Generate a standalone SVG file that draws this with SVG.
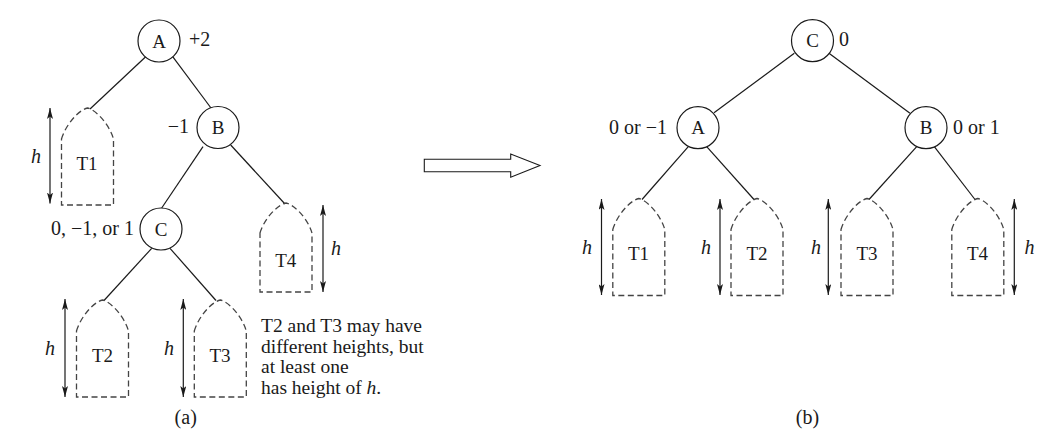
<svg xmlns="http://www.w3.org/2000/svg" xmlns:xlink="http://www.w3.org/1999/xlink" width="1057" height="442" viewBox="0 0 1057 442">
<style>
text{font-family:"Liberation Serif","Times New Roman",serif;fill:#1a1a1a}
.lbl{font-size:19px;text-anchor:middle}
.bal{font-size:20px}
.tl{font-size:19px;text-anchor:middle}
.h{font-size:20px;font-style:italic}
.note{font-size:19.5px}
.cap{font-size:20px;text-anchor:middle}
.node{fill:#fff;stroke:#1a1a1a;stroke-width:1.2}
.edge{stroke:#1a1a1a;stroke-width:1.2;fill:none}
.sub{fill:none;stroke:#444;stroke-width:1.3;stroke-dasharray:6 3.5}
.dim{stroke:#1a1a1a;stroke-width:1.2;fill:none;marker-start:url(#ah);marker-end:url(#ah)}
</style>
<defs>
<marker id="ah" viewBox="0 0 11 6" refX="11" refY="3" markerWidth="11" markerHeight="6" markerUnits="userSpaceOnUse" orient="auto-start-reverse">
<path d="M0,0 L11,3 L0,6 L2.5,3 Z" fill="#1a1a1a"/>
</marker>
<path id="tree" d="M-26,31 C-22,17 -9,2 0,0 C9,2 22,17 26,31 L26,97 L-26,97 Z"/>
<path id="treeS" d="M-26,30 C-22,16 -9,2 0,0 C9,2 22,16 26,30 L26,89 L-26,89 Z"/>
</defs>

<g id="connectors">
<line class="edge" x1="145.7" y1="56.7" x2="90" y2="109"/>
<line class="edge" x1="172.7" y1="56.7" x2="211" y2="108"/>
<line class="edge" x1="203" y1="146.7" x2="161.7" y2="208"/>
<line class="edge" x1="230.7" y1="145" x2="285" y2="204"/>
<line class="edge" x1="151.7" y1="248.3" x2="104" y2="300.5"/>
<line class="edge" x1="170" y1="248.3" x2="216" y2="300.5"/>
<line class="edge" x1="794.3" y1="53.3" x2="714" y2="112.7"/>
<line class="edge" x1="828.3" y1="52.7" x2="910" y2="113.3"/>
<line class="edge" x1="688.3" y1="146.7" x2="642" y2="199.5"/>
<line class="edge" x1="706.7" y1="146.7" x2="754" y2="199.5"/>
<line class="edge" x1="916.7" y1="146.7" x2="869" y2="199.5"/>
<line class="edge" x1="934.3" y1="146.7" x2="975" y2="199.5"/>
<polygon points="424.3,159.3 510.7,159.3 510.7,154 540,165.5 510.7,177.3 510.7,171.7 424.3,171.7" fill="#fff" stroke="#1a1a1a" stroke-width="1.1"/>
</g>

<!-- (a) -->
<g id="a-A"><circle class="node" cx="159" cy="41" r="21"/><text class="lbl" x="159" y="47.5">A</text><text class="bal" x="189" y="46">+2</text></g>
<g id="a-B"><circle class="node" cx="218" cy="127.5" r="21"/><text class="lbl" x="218" y="134">B</text><text class="bal" x="189" y="133.3" text-anchor="end">−1</text></g>
<g id="a-C"><circle class="node" cx="161" cy="229" r="21"/><text class="lbl" x="161" y="235.5">C</text><text class="bal" x="134" y="235" text-anchor="end">0, −1, or 1</text></g>

<g id="a-T1"><use xlink:href="#tree" class="sub" x="87.5" y="108"/><text class="tl" x="87" y="170">T1</text>
<line class="dim" x1="50" y1="108" x2="50" y2="203.5"/><text class="h" x="31" y="163">h</text></g>
<g id="a-T2"><use xlink:href="#tree" class="sub" x="102.5" y="300"/><text class="tl" x="102.5" y="362">T2</text>
<line class="dim" x1="65" y1="299" x2="65" y2="397"/><text class="h" x="45" y="355">h</text></g>
<g id="a-T3"><use xlink:href="#tree" class="sub" x="220.3" y="300"/><text class="tl" x="220" y="362">T3</text>
<line class="dim" x1="183.3" y1="299" x2="183.3" y2="397"/><text class="h" x="164" y="355">h</text></g>
<g id="a-T4"><use xlink:href="#treeS" class="sub" x="286" y="203"/><text class="tl" x="285.7" y="267">T4</text>
<line class="dim" x1="323" y1="205" x2="323" y2="292"/><text class="h" x="331" y="255">h</text></g>

<g id="note"><text class="note" x="261" y="331.7">T2 and T3 may have</text>
<text class="note" x="261" y="352.7">different heights, but</text>
<text class="note" x="261" y="373.3">at least one</text>
<text class="note" x="261" y="394">has height of <tspan font-style="italic">h</tspan>.</text></g>
<text class="cap" x="185.7" y="424">(a)</text>

<!-- (b) -->
<g id="b-C"><circle class="node" cx="812.5" cy="40.7" r="21"/><text class="lbl" x="812.5" y="47.2">C</text><text class="bal" x="839" y="46">0</text></g>
<g id="b-A"><circle class="node" cx="698" cy="127.7" r="21"/><text class="lbl" x="698" y="134.2">A</text><text class="bal" x="667" y="134" text-anchor="end">0 or −1</text></g>
<g id="b-B"><circle class="node" cx="926" cy="127.7" r="21"/><text class="lbl" x="926" y="134.2">B</text><text class="bal" x="953" y="133.5">0 or 1</text></g>

<g id="b-T1"><use xlink:href="#tree" class="sub" x="638.8" y="198.5"/><text class="tl" x="638.5" y="260">T1</text>
<line class="dim" x1="601.5" y1="199" x2="601.5" y2="295"/><text class="h" x="582" y="254">h</text></g>
<g id="b-T2"><use xlink:href="#tree" class="sub" x="757" y="198.5"/><text class="tl" x="757" y="260">T2</text>
<line class="dim" x1="720" y1="199" x2="720" y2="295"/><text class="h" x="701" y="254">h</text></g>
<g id="b-T3"><use xlink:href="#tree" class="sub" x="867" y="198.5"/><text class="tl" x="867" y="260">T3</text>
<line class="dim" x1="828.3" y1="199" x2="828.3" y2="295"/><text class="h" x="811" y="254">h</text></g>
<g id="b-T4"><use xlink:href="#tree" class="sub" x="977.8" y="198.5"/><text class="tl" x="977.5" y="260">T4</text>
<line class="dim" x1="1014.3" y1="199" x2="1014.3" y2="295"/><text class="h" x="1024.5" y="254">h</text></g>
<text class="cap" x="807.5" y="423.5">(b)</text>
</svg>
